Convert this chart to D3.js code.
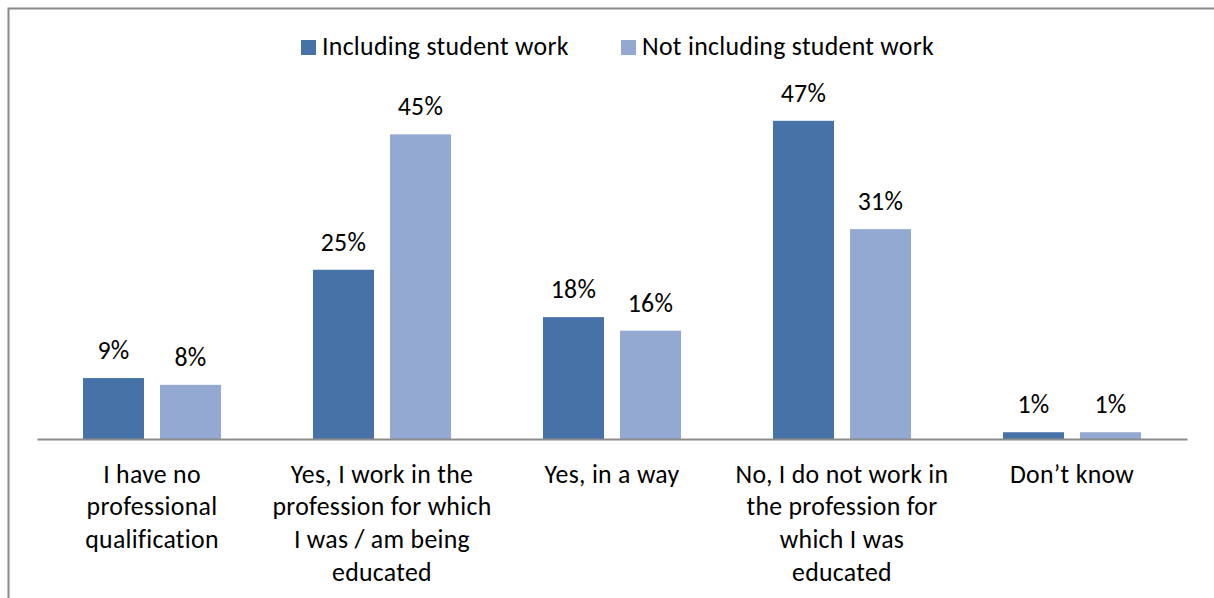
<!DOCTYPE html>
<html>
<head>
<meta charset="utf-8">
<script src="https://cdn.jsdelivr.net/npm/d3@7"></script>
<style>
  html, body { margin: 0; padding: 0; background: #ffffff; }
  svg { display: block; }
  text { font-family: Carlito, Calibri, Lato, "Open Sans", sans-serif; fill: #000; letter-spacing: 0.3px; }
</style>
</head>
<body>
<svg id="chart" width="1214" height="598"></svg>
<script>
// Survey answers (wrapped as they are shown under the axis)
const categoryLines = [
  ["I have no", "professional", "qualification"],
  ["Yes, I work in the", "profession for which", "I was / am being", "educated"],
  ["Yes, in a way"],
  ["No, I do not work in", "the profession for", "which I was", "educated"],
  ["Don\u2019t know"]
];
const categories = categoryLines.map(l => l.join(" "));

const seriesNames = ["Including student work", "Not including student work"];
const includingStudentWork = [9, 25, 18, 47, 1];
const notIncludingStudentWork = [8, 45, 16, 31, 1];
const seriesColors = ["#4672a8", "#94a9d1"];

const seriesValues = [includingStudentWork, notIncludingStudentWork];

const svg = d3.select("#chart");
const fontSize = 25.8;

// Outer frame (runs off the right and bottom edges)
svg.append("rect")
  .attr("x", 8.5).attr("y", 8.5)
  .attr("width", 1300).attr("height", 700)
  .attr("fill", "none")
  .attr("stroke", "#8a8a8a")
  .attr("stroke-width", 2);

const plot = { left: 37, right: 1187, baseline: 439 };

const x = d3.scaleBand()
  .domain(categories)
  .range([plot.left, plot.right])
  .paddingInner(0).paddingOuter(0);

const xSeries = d3.scaleBand()
  .domain(seriesNames)
  .range([0, x.bandwidth()])
  .paddingInner(0.2078)
  .paddingOuter(0.597);

const y = d3.scaleLinear()
  .domain([0, 50])
  .range([plot.baseline, plot.baseline - 338.5]);

// Bars
const groups = svg.append("g").selectAll("g")
  .data(categories)
  .join("g")
  .attr("transform", d => `translate(${x(d)},0)`);

groups.each(function(cat, i) {
  const g = d3.select(this);
  seriesNames.forEach((s, si) => {
    const v = seriesValues[si][i];
    g.append("rect")
      .attr("x", xSeries(s))
      .attr("y", y(v))
      .attr("width", xSeries.bandwidth())
      .attr("height", y(0) - y(v))
      .attr("fill", seriesColors[si]);
    g.append("text")
      .attr("x", xSeries(s) + xSeries.bandwidth() / 2)
      .attr("y", y(v) - 19)
      .attr("text-anchor", "middle")
      .style("font-size", fontSize + "px")
      .text(v + "%");
  });
});

// Category axis
const xAxis = d3.axisBottom(x).tickSize(0).tickFormat("");
const axisG = svg.append("g")
  .attr("transform", `translate(0,${plot.baseline})`)
  .call(xAxis);
axisG.select(".domain").attr("stroke", "#8c8c8c").attr("stroke-width", 2);

// Wrapped category labels
const labelG = svg.append("g");
categoryLines.forEach((lines, i) => {
  const t = labelG.append("text")
    .attr("text-anchor", "middle")
    .style("font-size", fontSize + "px");
  lines.forEach((line, li) => {
    t.append("tspan")
      .attr("x", x(categories[i]) + x.bandwidth() / 2)
      .attr("y", 482.5 + li * 32.7)
      .text(line);
  });
});

// Legend
const legendItems = [
  { name: seriesNames[0], color: seriesColors[0], x: 301 },
  { name: seriesNames[1], color: seriesColors[1], x: 621 }
];
const legend = svg.append("g");
legendItems.forEach(item => {
  legend.append("rect")
    .attr("x", item.x).attr("y", 40)
    .attr("width", 15).attr("height", 15)
    .attr("fill", item.color);
  legend.append("text")
    .attr("x", item.x + 21)
    .attr("y", 55)
    .style("font-size", fontSize + "px")
    .text(item.name);
});
</script>
</body>
</html>
